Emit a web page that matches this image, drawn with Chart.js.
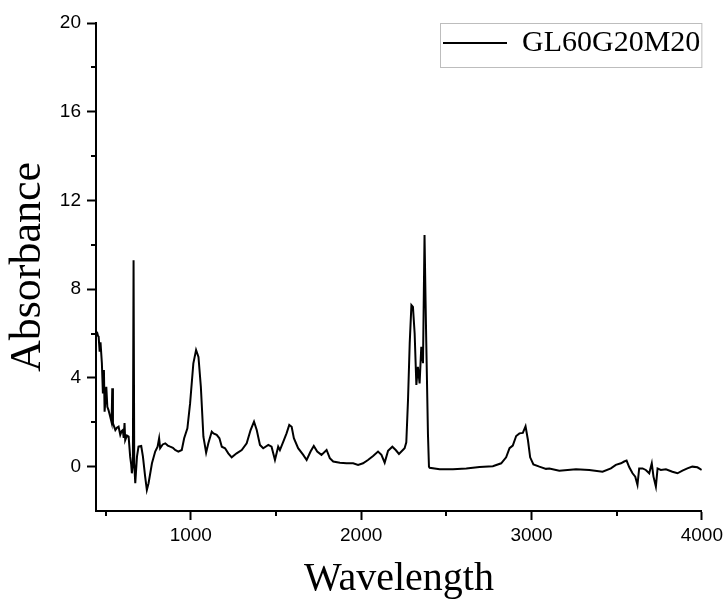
<!DOCTYPE html>
<html>
<head>
<meta charset="utf-8">
<script src="https://cdn.jsdelivr.net/npm/chart.js@4.4.1/dist/chart.umd.min.js"></script>
<style>
  html, body { margin: 0; padding: 0; background: #fff; }
  #wrap { width: 727px; height: 603px; position: relative; }
</style>
</head>
<body>
<div id="wrap"><canvas id="c" width="727" height="603"></canvas></div>
<script>
const seriesLabel = 'GL60G20M20';
const xTitle = 'Wavelength';
const yTitle = 'Absorbance';

const wavelength = [
  449, 455, 459, 465, 470, 478, 484, 490, 494, 504, 510, 517, 527, 535, 539, 543, 550, 557, 566, 576,
  586, 594, 601, 606, 611, 615, 625, 635, 644, 650, 654, 660, 664, 668, 674, 684, 693, 709, 719, 732,
  742, 752, 772, 791, 805, 814, 820, 835, 850, 865, 879, 895, 908, 927, 947, 961, 980, 996, 1015, 1031,
  1045, 1059, 1074, 1090, 1103, 1123, 1133, 1152, 1168, 1182, 1201, 1220, 1240, 1269, 1299, 1328, 1351, 1371, 1387, 1406,
  1425, 1455, 1474, 1494, 1513, 1523, 1543, 1562, 1578, 1592, 1605, 1630, 1660, 1680, 1703, 1722, 1742, 1767, 1797, 1816,
  1836, 1875, 1914, 1953, 1982, 2011, 2040, 2070, 2099, 2119, 2138, 2158, 2183, 2203, 2222, 2255, 2265, 2275, 2285, 2295,
  2304, 2314, 2324, 2333, 2343, 2353, 2363, 2372, 2378, 2382, 2392, 2398, 2402, 2461, 2539, 2617, 2695, 2773, 2822, 2851,
  2871, 2890, 2910, 2929, 2949, 2965, 2979, 2992, 3011, 3046, 3085, 3105, 3163, 3261, 3339, 3417, 3466, 3495, 3525, 3544,
  3558, 3574, 3593, 3609, 3622, 3632, 3652, 3671, 3691, 3706, 3716, 3730, 3740, 3759, 3789, 3827, 3857, 3886, 3915, 3944,
  3974, 3999
];
const absorbance = [
  6.08, 5.9, 5.86, 5.18, 5.6, 4.66, 3.3, 4.36, 2.48, 3.6, 2.7, 2.55, 2.25, 2.0, 3.53, 1.95, 1.8, 1.65, 1.75, 1.8,
  1.43, 1.6, 1.65, 1.3, 1.97, 1.2, 1.4, 1.35, 0.45, 0.1, -0.3, 0.15, 9.3, 0.15, -0.75, 0.45, 0.9, 0.93, 0.45, -0.45,
  -1.05, -0.75, 0.15, 0.68, 0.9, 1.28, 0.83, 1.0, 1.05, 0.95, 0.9, 0.85, 0.75, 0.68, 0.75, 1.28, 1.73, 2.86, 4.66, 5.26,
  4.95, 3.6, 1.35, 0.63, 1.05, 1.58, 1.5, 1.43, 1.28, 0.9, 0.83, 0.6, 0.42, 0.6, 0.75, 1.05, 1.65, 2.03, 1.65, 0.98,
  0.83, 0.98, 0.9, 0.3, 0.9, 0.75, 1.13, 1.5, 1.88, 1.8, 1.28, 0.83, 0.53, 0.3, 0.68, 0.93, 0.68, 0.53, 0.75, 0.38,
  0.23, 0.18, 0.15, 0.15, 0.08, 0.15, 0.3, 0.48, 0.68, 0.53, 0.18, 0.72, 0.9, 0.75, 0.57, 0.83, 1.1, 3.0, 5.56, 7.28,
  7.2, 6.0, 3.68, 4.5, 3.75, 5.4, 4.66, 10.44, 7.5, 5.7, 1.5, 0.0, -0.05, -0.12, -0.12, -0.08, -0.02, 0.02, 0.15, 0.42,
  0.83, 0.95, 1.38, 1.5, 1.52, 1.82, 1.2, 0.42, 0.1, 0.0, -0.1, -0.08, -0.18, -0.12, -0.15, -0.23, -0.08, 0.08, 0.15, 0.23,
  0.27, -0.03, -0.3, -0.45, -0.82, -0.08, -0.08, -0.15, -0.3, 0.15, -0.45, -0.9, -0.08, -0.15, -0.12, -0.23, -0.3, -0.18, -0.08, 0.0,
  -0.03, -0.15
];

const xMajorTicks = [1000, 2000, 3000, 4000];
const xMinorTicks = [500, 1500, 2500, 3500];
const yMajorTicks = [0, 4, 8, 12, 16, 20];
const yMinorTicks = [2, 6, 10, 14, 18];

const points = wavelength.map((w, i) => ({ x: w, y: absorbance[i] }));

const legendPlacer = {
  id: 'legendPlacer',
  afterLayout(chart) {
    const lg = chart.legend;
    if (!lg) return;
    const w = lg.width;
    lg.left = 438;
    lg.right = lg.left + w;
    lg.top = chart.chartArea.top;
    lg.bottom = lg.top + 44;
  },
  afterDraw(chart) {
    const ctx = chart.ctx;
    const ca = chart.chartArea;
    ctx.save();
    ctx.strokeStyle = '#bdbdbd';
    ctx.lineWidth = 1;
    ctx.strokeRect(440.5, ca.top + 0.5, ca.right - 440.5, 44);
    ctx.restore();
  }
};

const minorTicks = {
  id: 'minorTicks',
  afterDraw(chart) {
    const ctx = chart.ctx;
    const xs = chart.scales.x, ys = chart.scales.y;
    ctx.save();
    ctx.strokeStyle = '#000';
    ctx.lineWidth = 2;
    ctx.beginPath();
    xMinorTicks.forEach(v => {
      const px = Math.round(xs.getPixelForValue(v));
      ctx.moveTo(px, xs.top);
      ctx.lineTo(px, xs.top + 5);
    });
    yMinorTicks.forEach(v => {
      const py = Math.round(ys.getPixelForValue(v));
      ctx.moveTo(ys.right - 5, py);
      ctx.lineTo(ys.right, py);
    });
    ctx.stroke();
    ctx.restore();
  }
};

new Chart(document.getElementById('c'), {
  type: 'line',
  data: {
    datasets: [{
      label: seriesLabel,
      data: points,
      borderColor: '#000',
      backgroundColor: '#000',
      borderWidth: 2,
      pointRadius: 0,
      tension: 0,
      fill: false
    }]
  },
  options: {
    responsive: false,
    animation: false,
    devicePixelRatio: 1,
    layout: { padding: { top: 23, right: 24, left: 0, bottom: 0 } },
    plugins: {
      tooltip: { enabled: false },
      legend: {
        display: true,
        position: 'chartArea',
        align: 'start',
        labels: {
          boxWidth: 64,
          boxHeight: 2,
          padding: 5,
          color: '#000',
          font: { family: '"Liberation Serif", "Times New Roman", serif', size: 30 },
          generateLabels(chart) {
            return Chart.defaults.plugins.legend.labels.generateLabels(chart).map(l => Object.assign(l, { lineWidth: 0, fillStyle: '#000', strokeStyle: '#000' }));
          }
        }
      }
    },
    scales: {
      x: {
        type: 'linear',
        min: 443.5,
        max: 4000,
        afterBuildTicks(scale) { scale.ticks = xMajorTicks.map(v => ({ value: v })); },
        afterFit(scale) { scale.height = 92; },
        grid: { display: true, drawOnChartArea: false, drawTicks: true, tickLength: 9, tickWidth: 2, tickColor: '#000' },
        border: { display: true, color: '#000', width: 2 },
        ticks: {
          color: '#000',
          padding: 4,
          maxRotation: 0,
          font: { family: '"Liberation Sans", Arial, sans-serif', size: 19 },
          callback: v => String(v)
        },
        title: {
          display: true,
          text: xTitle,
          color: '#000',
          padding: { top: 0, bottom: 0 },
          font: { family: '"Liberation Serif", "Times New Roman", serif', size: 40 }
        }
      },
      y: {
        type: 'linear',
        min: -2,
        max: 20,
        afterBuildTicks(scale) { scale.ticks = yMajorTicks.map(v => ({ value: v })); },
        afterFit(scale) { scale.width = 96; },
        grid: { display: true, drawOnChartArea: false, drawTicks: true, tickLength: 9, tickWidth: 2, tickColor: '#000' },
        border: { display: true, color: '#000', width: 2 },
        ticks: {
          color: '#000',
          padding: 6,
          font: { family: '"Liberation Sans", Arial, sans-serif', size: 19 },
          callback: v => String(v)
        },
        title: {
          display: true,
          text: yTitle,
          color: '#000',
          padding: { top: 2, bottom: 0 },
          font: { family: '"Liberation Serif", "Times New Roman", serif', size: 44 }
        }
      }
    }
  },
  plugins: [legendPlacer, minorTicks]
});
</script>
</body>
</html>
